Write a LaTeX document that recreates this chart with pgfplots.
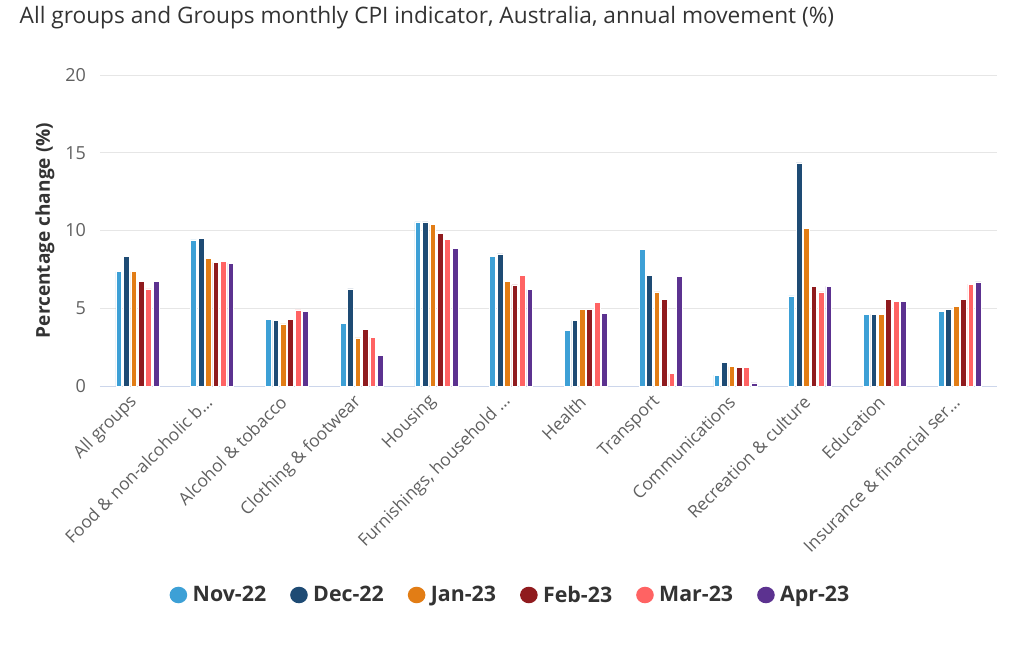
\documentclass[border=0pt]{standalone}
\usepackage{fontspec}
\setmainfont{Open Sans}
\usepackage{pgfplots}
\pgfplotsset{compat=1.18}
\usepackage{pgfplotstable}

\definecolor{cnov}{HTML}{3DA0D6}
\definecolor{cdec}{HTML}{1E4B74}
\definecolor{cjan}{HTML}{E27D15}
\definecolor{cfeb}{HTML}{901B1E}
\definecolor{cmar}{HTML}{FF6363}
\definecolor{capr}{HTML}{5C3290}
\definecolor{gridgrey}{HTML}{E6E6E6}
\definecolor{axisline}{HTML}{CCD6EB}
\definecolor{txt}{HTML}{333333}
\definecolor{ticktxt}{HTML}{606060}

\pgfplotsset{
  circlegend/.style={legend image code/.code={%
      \fill[##1, draw=none] (0pt,0pt) ellipse (6.6pt and 6.2pt);
      \path (8.5pt,0pt);}},
  cpibar/.style={fill=#1, draw=white, line width=0.4pt, circlegend},
}

% annual movement (%) by group, one column per month
\pgfplotstableread{
x  nov   dec   jan   feb   mar   apr
0  7.35  8.35  7.35  6.75  6.25  6.75
1  9.4   9.5   8.2   7.95  8.0   7.9
2  4.3   4.2   4.0   4.3   4.9   4.8
3  4.05  6.25  3.1   3.65  3.15  1.95
4  10.55 10.55 10.4  9.8   9.45  8.85
5  8.35  8.5   6.75  6.5   7.1   6.2
6  3.6   4.2   4.95  4.95  5.4   4.65
7  8.8   7.1   6.05  5.55  0.8   7.05
8  0.7   1.5   1.25  1.2   1.2   0.2
9  5.8   14.35 10.15 6.4   6.05  6.4
10 4.6   4.6   4.6   5.55  5.45  5.45
11 4.8   4.95  5.1   5.55  6.55  6.7
}\cpi

\begin{document}
\begin{tikzpicture}
\begin{axis}[
    at={(0pt,0pt)}, anchor=south west,
    scale only axis, width=672.75pt, height=233.25pt,
    ybar=1.3pt, bar width=4.3pt,
    xmin=-0.5, xmax=11.5, ymin=0, ymax=20,
    xtick={0,...,11},
    xticklabels={All groups, Food \& non-alcoholic b…, Alcohol \& tobacco,
        Clothing \& footwear, Housing, {Furnishings, household …}, Health,
        Transport, Communications, Recreation \& culture, Education,
        Insurance \& financial ser…},
    ytick={0,5,10,15,20},
    ymajorgrids, grid style={draw=gridgrey, line width=0.75pt},
    axis x line*=bottom, axis y line*=left,
    x axis line style={draw=axisline, line width=0.75pt, -},
    y axis line style={draw=none},
    tick style={draw=none},
    /pgf/number format/assume math mode=true,
    yticklabel style={xshift=-7pt, font=\fontsize{13.5}{15}\selectfont, text=ticktxt},
    xticklabel style={rotate=45, anchor=east, font=\fontsize{13}{15}\selectfont, text=ticktxt},
    xticklabel shift=3pt,
    legend columns=6,
    legend style={at={(0.458,-0.672)}, anchor=center, draw=none,
        font=\fontsize{16}{18}\selectfont\bfseries, text=txt,
        /tikz/every even column/.append style={column sep=16pt}},
  ]
  \addplot[cpibar=cnov] table[x=x, y=nov]{\cpi};
  \addplot[cpibar=cdec] table[x=x, y=dec]{\cpi};
  \addplot[cpibar=cjan] table[x=x, y=jan]{\cpi};
  \addplot[cpibar=cfeb] table[x=x, y=feb]{\cpi};
  \addplot[cpibar=cmar] table[x=x, y=mar]{\cpi};
  \addplot[cpibar=capr] table[x=x, y=apr]{\cpi};
  \legend{Nov-22, Dec-22, Jan-23, Feb-23, Mar-23, Apr-23}
\end{axis}
\node[anchor=west, font=\fontsize{17}{20}\selectfont, text=txt] at (-63.75pt, 276pt)
  {All groups and Groups monthly CPI indicator, Australia, annual movement (\%)};
\node[rotate=90, font=\fontsize{14.3}{16}\selectfont\bfseries, text=txt] at (-41.25pt, 116.6pt)
  {Percentage change (\%)};
\pgfresetboundingbox
\path[use as bounding box] (-75pt,-193.5pt) rectangle (693pt,289.5pt);
\end{tikzpicture}
\end{document}
